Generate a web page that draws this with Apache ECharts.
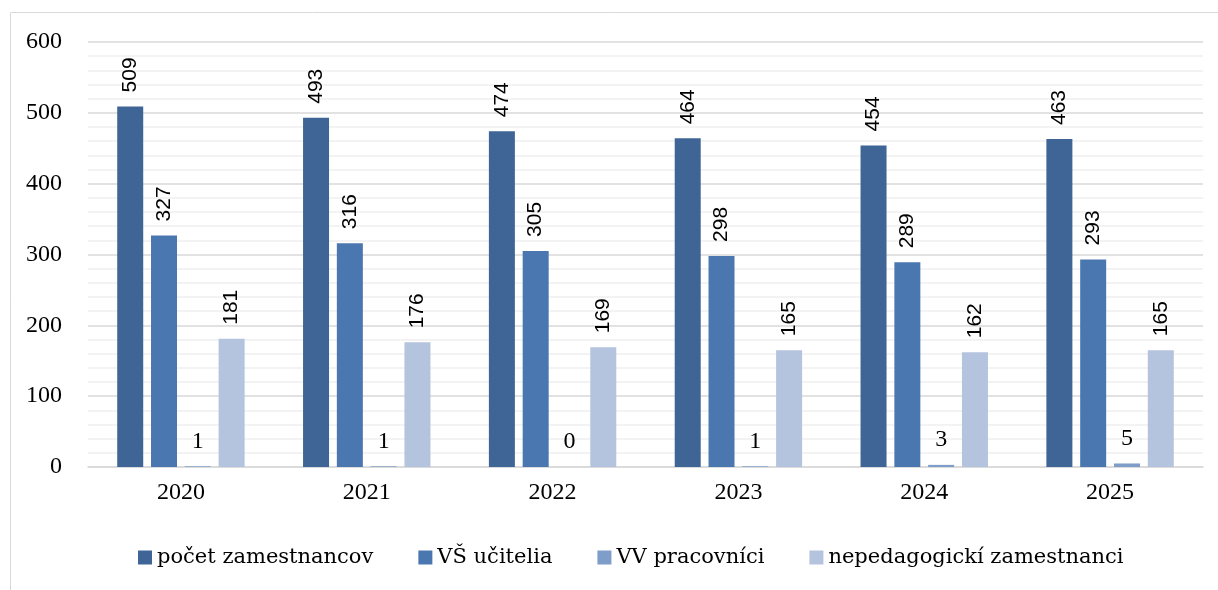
<!DOCTYPE html>
<html>
<head>
<meta charset="utf-8">
<script src="https://cdn.jsdelivr.net/npm/echarts@6/dist/echarts.min.js"></script>
<style>
  html, body { margin: 0; padding: 0; background: #fff; }
  #chart { width: 1218px; height: 590px; }
</style>
</head>
<body>
<div id="chart"></div>
<script>
// roky
const years = ['2020', '2021', '2022', '2023', '2024', '2025']
const pocetZamestnancov = [509, 493, 474, 464, 454, 463]
const vsUcitelia = [327, 316, 305, 298, 289, 293]
const vvPracovnici = [1, 1, 0, 1, 3, 5]
const nepedagogicki = [181, 176, 169, 165, 162, 165]

const serif = '"Liberation Serif", "DejaVu Serif", serif'

const rotLabel = {
  show: true,
  position: 'top',
  rotate: 90,
  align: 'left',
  verticalAlign: 'middle',
  distance: 14,
  color: '#000',
  fontFamily: '"Liberation Sans", Arial, sans-serif',
  fontSize: 21
}

const chart = echarts.init(document.getElementById('chart'))
chart.setOption({
  animation: false,
  color: ['#3e6596', '#4a77b0', '#7f9dc9', '#b4c3de'],
  graphic: [{
    type: 'rect',
    shape: { x: 10.5, y: 12.5, width: 1300, height: 700 },
    style: { fill: 'none', stroke: '#d9d9d9', lineWidth: 1 },
    silent: true
  }],
  grid: { left: 88, right: 15, top: 42, bottom: 123 },
  legend: {
    bottom: 17,
    left: 133,
    itemWidth: 14,
    itemHeight: 14,
    itemGap: 45,
    icon: 'rect',
    textStyle: { fontFamily: '"DejaVu Serif", serif', fontSize: 21, color: '#000' }
  },
  xAxis: {
    type: 'category',
    data: years,
    axisTick: { show: false },
    axisLine: { lineStyle: { color: '#d9d9d9', width: 1.5 } },
    axisLabel: { fontFamily: serif, fontSize: 24, color: '#000', margin: 14 }
  },
  yAxis: {
    type: 'value',
    min: 0,
    max: 600,
    interval: 100,
    axisLabel: { fontFamily: serif, fontSize: 24, color: '#000', margin: 26 },
    splitLine: { lineStyle: { color: '#d9d9d9', width: 1.5 } },
    minorTick: { show: false, splitNumber: 5 },
    minorSplitLine: { show: true, lineStyle: { color: '#f0f0f0', width: 1.5 } }
  },
  series: [
    { name: 'počet zamestnancov', type: 'bar', data: pocetZamestnancov, barWidth: 26, barGap: '30%', label: rotLabel },
    { name: 'VŠ učitelia', type: 'bar', data: vsUcitelia, barWidth: 26, barGap: '30%', label: rotLabel },
    {
      name: 'VV pracovníci', type: 'bar', data: vvPracovnici, barWidth: 26, barGap: '30%',
      label: { show: true, position: 'top', distance: 13, color: '#000', fontFamily: serif, fontSize: 24 }
    },
    { name: 'nepedagogickí zamestnanci', type: 'bar', data: nepedagogicki, barWidth: 26, barGap: '30%', label: rotLabel }
  ]
})
</script>
</body>
</html>
